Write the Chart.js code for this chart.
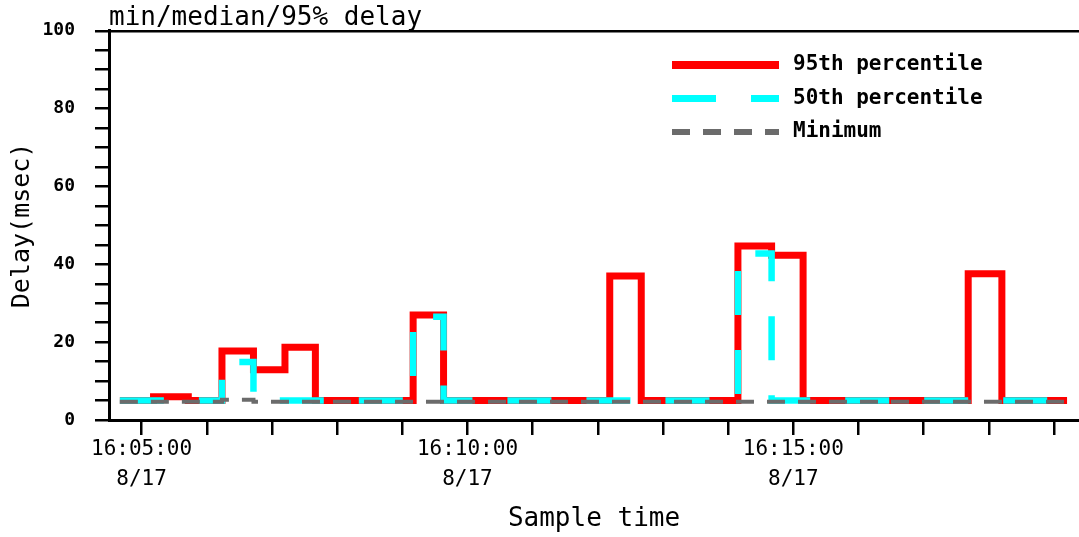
<!DOCTYPE html>
<html>
<head>
<meta charset="utf-8">
<script src="https://cdn.jsdelivr.net/npm/chart.js@4.4.1/dist/chart.umd.min.js"></script>
<style>
  html, body { margin: 0; padding: 0; background: #fff; }
  #wrap { width: 1079px; height: 537px; position: relative; }
</style>
</head>
<body>
<div id="wrap"><canvas id="chart1"></canvas></div>
<script>
// sample boundaries (start of each 30s sample, last entry = end of last sample)
const sampleTimes = ['16:04:40', '16:05:11', '16:05:43', '16:06:14', '16:06:43', '16:07:12',
  '16:07:40', '16:08:10', '16:08:40', '16:09:10', '16:09:38', '16:10:09', '16:10:39',
  '16:11:10', '16:11:41', '16:12:11', '16:12:40', '16:13:10', '16:13:39', '16:14:09',
  '16:14:40', '16:15:09', '16:15:40', '16:16:10', '16:16:41', '16:17:11', '16:17:41',
  '16:18:12', '16:18:42', '16:19:12'];

const delay95 = [5.0, 6.0, 5.0, 17.7, 12.9, 18.7, 5.0, 5.0, 5.0, 27.0, 5.0, 5.0, 5.0, 5.0, 5.0,
  37.0, 5.0, 5.0, 5.0, 44.7, 42.3, 5.0, 5.0, 5.0, 5.0, 5.0, 37.6, 5.0, 5.0];
const delay50 = [5.0, 5.0, 5.0, 14.9, 5.0, 5.0, 5.0, 5.0, 5.0, 26.5, 5.0, 5.0, 5.0, 5.0, 5.0,
  5.0, 5.0, 5.0, 5.0, 42.8, 5.0, 5.0, 5.0, 5.0, 5.0, 5.0, 5.0, 5.0, 5.0];
const delayMin = [4.7, 4.7, 4.7, 5.2, 4.7, 4.7, 4.7, 4.7, 4.7, 4.7, 4.7, 4.7, 4.7, 4.7, 4.7,
  4.7, 4.7, 4.7, 4.7, 4.7, 4.7, 4.7, 4.7, 4.7, 4.7, 4.7, 4.7, 4.7, 4.7];

const sampleDate = '8/17';
const axisStart = '16:04:30';
const axisEnd = '16:19:23';
const yLabelTicks = [0, 20, 40, 60, 80, 100];

const mono = "'DejaVu Sans Mono', 'Liberation Mono', monospace";

function toSec(t) {
  const p = t.split(':').map(Number);
  return p[0] * 3600 + p[1] * 60 + p[2];
}
function fmt(sec) {
  const h = Math.floor(sec / 3600), m = Math.floor(sec / 60) % 60, s = sec % 60;
  return [h, m, s].map(v => String(v).padStart(2, '0')).join(':');
}
// step series: hold last value until the end time
function steps(vals) {
  return sampleTimes.map((t, i) => ({ x: toSec(t), y: vals[Math.min(i, vals.length - 1)] }));
}

// legend drawn inside the plot, top right
const insideLegend = {
  id: 'insideLegend',
  afterDatasetsDraw(chart, args, opts) {
    const ctx = chart.ctx;
    ctx.save();
    chart.data.datasets.forEach((ds, i) => {
      const y = opts.y + i * opts.gap;
      ctx.beginPath();
      ctx.setLineDash(ds.borderDash || []);
      ctx.lineDashOffset = 0;
      ctx.lineCap = 'butt';
      ctx.lineWidth = opts.widths[i];
      ctx.strokeStyle = ds.borderColor;
      ctx.moveTo(opts.x, y);
      ctx.lineTo(opts.x + opts.len, y);
      ctx.stroke();
      ctx.setLineDash([]);
      ctx.fillStyle = '#000';
      ctx.font = 'bold 21px ' + mono;
      ctx.textBaseline = 'middle';
      ctx.textAlign = 'left';
      ctx.fillText(ds.label, opts.x + opts.len + 14, y);
    });
    ctx.restore();
  }
};

const ctx = document.getElementById('chart1').getContext('2d');
const chart1 = new Chart(ctx, {
  type: 'line',
  data: {
    datasets: [
      {
        label: '95th percentile',
        data: steps(delay95),
        borderColor: '#ff0000',
        borderWidth: 7,
        order: 2
      },
      {
        label: '50th percentile',
        data: steps(delay50),
        borderColor: '#00ffff',
        borderWidth: 6.5,
        borderDash: [44, 35],
        order: 1
      },
      {
        label: 'Minimum',
        data: steps(delayMin),
        borderColor: '#6b6b6b',
        borderWidth: 4,
        borderDash: [18, 13],
        order: 0
      }
    ]
  },
  options: {
    responsive: true,
    maintainAspectRatio: false,
    animation: false,
    layout: { padding: 0 },
    elements: {
      point: { radius: 0 },
      line: { stepped: true, tension: 0, fill: false, borderCapStyle: 'butt', borderJoinStyle: 'miter' }
    },
    scales: {
      x: {
        type: 'linear',
        min: toSec(axisStart),
        max: toSec(axisEnd),
        afterBuildTicks: (scale) => {
          scale.ticks = scale.ticks.filter(t => t.value % 60 === 0);
        },
        afterFit: (scale) => { scale.height = 117; },
        ticks: {
          stepSize: 60,
          includeBounds: false,
          autoSkip: false,
          maxRotation: 0,
          minRotation: 0,
          padding: 0,
          color: '#000',
          font: { family: mono, size: 21, lineHeight: 1.43 },
          callback: (v) => (v % 300 === 0 ? [fmt(v), sampleDate] : '')
        },
        grid: {
          drawOnChartArea: false,
          tickLength: 15,
          tickColor: '#000',
          lineWidth: 2.5
        },
        border: { color: '#000', width: 3 },
        title: {
          display: true,
          text: 'Sample time',
          color: '#000',
          font: { family: mono, size: 26, lineHeight: 1.2 },
          padding: { top: 0, bottom: 2 }
        }
      },
      y: {
        min: 0,
        max: 100,
        afterFit: (scale) => { scale.width = 109; },
        ticks: {
          stepSize: 5,
          autoSkip: false,
          padding: 20,
          color: '#000',
          font: { family: mono, size: 18, weight: 'bold' },
          callback: (v) => (yLabelTicks.includes(v) ? v : '')
        },
        grid: {
          drawOnChartArea: true,
          color: (c) => (c.tick && c.tick.value === 100 ? '#000' : 'rgba(0,0,0,0)'),
          tickColor: '#000',
          tickLength: 14,
          lineWidth: 2.5
        },
        border: { color: '#000', width: 3 },
        title: {
          display: true,
          text: 'Delay(msec)',
          color: '#000',
          font: { family: mono, size: 25, lineHeight: 1.2 },
          padding: { top: 7, bottom: 0 }
        }
      }
    },
    plugins: {
      legend: { display: false },
      tooltip: { enabled: false },
      title: {
        display: true,
        text: 'min/median/95% delay',
        align: 'start',
        fullSize: false,
        color: '#000',
        font: { family: mono, size: 26, weight: 'normal', lineHeight: 1 },
        padding: { top: 4, bottom: 0 }
      },
      insideLegend: { x: 672, y: 65, gap: 33.5, len: 107, widths: [8, 7, 6] }
    }
  },
  plugins: [insideLegend]
});
</script>
</body>
</html>
